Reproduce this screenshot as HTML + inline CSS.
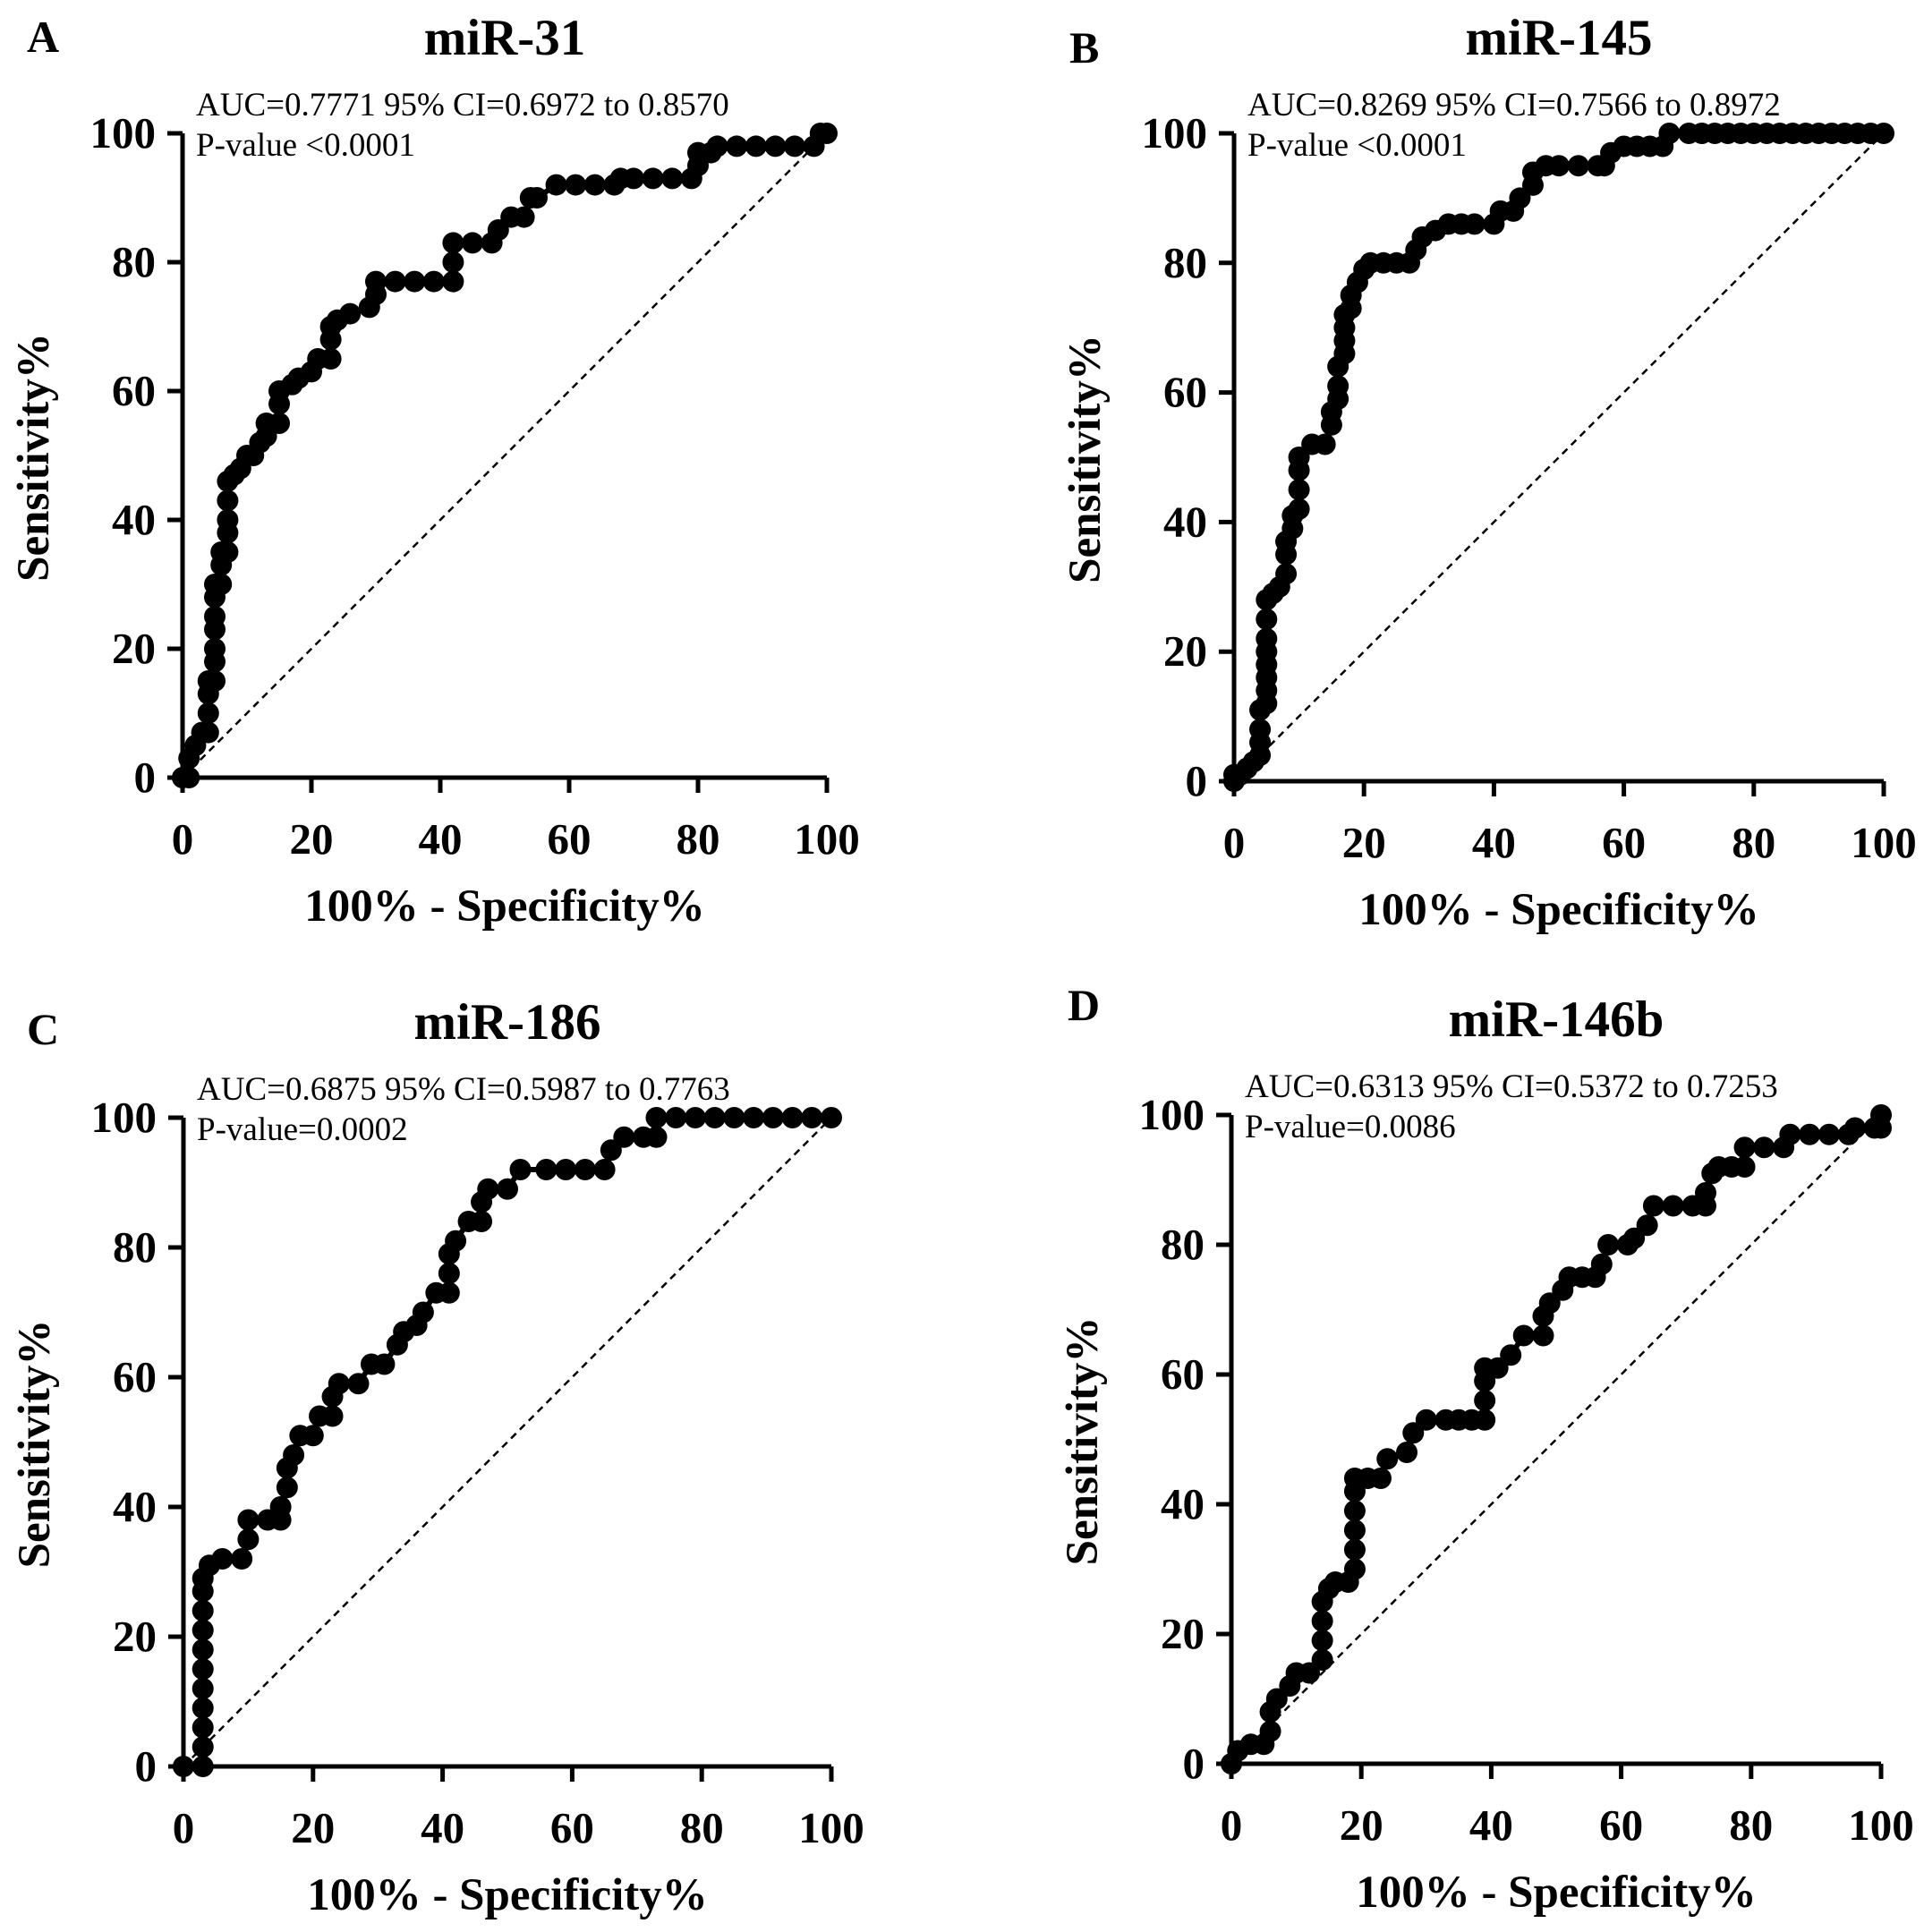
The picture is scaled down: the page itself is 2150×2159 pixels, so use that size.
<!DOCTYPE html>
<html><head><meta charset="utf-8"><style>
html,body{margin:0;padding:0;background:#fff;}
svg{display:block;font-family:"Liberation Serif",serif;}
</style></head><body>
<svg id="chart" width="2150" height="2159" viewBox="0 0 2150 2159" xmlns="http://www.w3.org/2000/svg"></svg>
<script>
const ticks = [0,20,40,60,80,100];
const titles = ["miR-31","miR-145","miR-186","miR-146b"];
const letters = ["A","B","C","D"];
const aucTexts = ["AUC=0.7771 95% CI=0.6972 to 0.8570","AUC=0.8269 95% CI=0.7566 to 0.8972","AUC=0.6875 95% CI=0.5987 to 0.7763","AUC=0.6313 95% CI=0.5372 to 0.7253"];
const pTexts = ["P-value <0.0001","P-value <0.0001","P-value=0.0002","P-value=0.0086"];
const rocAx = [0,1,1,2,3,4,4,4,4,5,5,5,5,5,5,5,6,6,6,7,7,7,7,7,8,9,10,11,12,13,13,15,15,15,17,18,20,21,23,23,23,24,26,29,30,30,33,36,39,42,42,42,45,48,49,51,53,54,55,58,61,64,67,68,70,73,76,79,80,80,82,83,86,89,92,95,98,99,100];
const rocAy = [0,0,3,5,7,7,10,13,15,15,18,20,23,25,28,30,30,33,35,35,38,40,43,46,47,48,50,50,52,53,55,55,58,60,61,62,63,65,65,68,70,71,72,73,75,77,77,77,77,77,80,83,83,83,85,87,87,90,90,92,92,92,92,93,93,93,93,93,95,97,97,98,98,98,98,98,98,100,100];
const rocBx = [0,0,1,2,3,4,4,4,4,5,5,5,5,5,5,5,5,6,7,8,8,8,9,9,10,10,10,10,12,14,15,15,16,16,16,17,17,17,17,18,18,19,20,21,23,25,27,28,29,31,33,35,37,40,41,43,44,46,46,48,50,53,56,57,58,60,62,64,66,67,70,72,74,76,78,80,82,84,86,88,90,92,94,96,98,100];
const rocBy = [0,1,1,2,3,4,6,8,11,12,14,16,18,20,22,25,28,29,30,32,35,37,39,41,42,45,48,50,52,52,55,57,59,61,64,66,68,70,72,73,75,77,79,80,80,80,80,82,84,85,86,86,86,86,88,88,90,92,94,95,95,95,95,95,97,98,98,98,98,100,100,100,100,100,100,100,100,100,100,100,100,100,100,100,100,100];
const rocCx = [0,3,3,3,3,3,3,3,3,3,3,3,4,6,9,10,10,13,15,15,16,16,17,18,20,21,23,23,24,27,29,31,33,34,36,37,39,41,41,41,42,44,46,46,47,50,52,56,59,62,65,66,68,71,73,73,76,79,82,85,88,91,94,97,100];
const rocCy = [0,0,3,6,9,12,15,18,21,24,27,29,31,32,32,35,38,38,38,40,43,46,48,51,51,54,54,57,59,59,62,62,65,67,68,70,73,73,76,79,81,84,84,87,89,89,92,92,92,92,92,95,97,97,97,100,100,100,100,100,100,100,100,100,100];
const rocDx = [0,1,3,5,6,6,7,9,10,12,14,14,14,14,15,16,18,19,19,19,19,19,19,21,23,24,27,28,30,33,35,37,39,39,39,39,41,43,45,48,48,49,51,52,54,56,57,58,61,62,64,65,68,71,73,73,74,75,77,79,79,82,85,86,89,92,95,96,99,100,100];
const rocDy = [0,2,3,3,5,8,10,12,14,14,16,19,22,25,27,28,28,30,33,36,39,42,44,44,44,47,48,51,53,53,53,53,53,56,59,61,61,63,66,66,69,71,73,75,75,75,77,80,80,81,83,86,86,86,86,88,91,92,92,92,95,95,95,97,97,97,97,98,98,100,98];
const series = [[rocAx,rocAy],[rocBx,rocBy],[rocCx,rocCy],[rocDx,rocDy]];
const panels = [
 {x0:204,x1:924,y0:869,y1:149,lx:30,ly:58},
 {x0:1379,x1:2105,y0:873,y1:149,lx:1195,ly:70},
 {x0:205,x1:929,y0:1974,y1:1249,lx:30,ly:1167},
 {x0:1376,x1:2102,y0:1971,y1:1246,lx:1193,ly:1140}
];
const svg = document.getElementById('chart');
const NS = 'http://www.w3.org/2000/svg';
function mk(tag, attrs, parent){const e=document.createElementNS(NS,tag);for(const k in attrs)e.setAttribute(k,attrs[k]);(parent||svg).appendChild(e);return e;}
const names=["mir-31","mir-145","mir-186","mir-146b"];
panels.forEach((p,i)=>{
  const g = mk('g',{});
  
  
  const sx = v => p.x0 + (p.x1-p.x0)*v/100;
  const sy = v => p.y0 + (p.y1-p.y0)*v/100;
  const cx = (p.x0+p.x1)/2;
  let t = mk('text',{x:p.lx,y:p.ly,'font-size':50,'font-weight':'bold'},g); t.textContent=letters[i];
  
  
  t = mk('text',{x:cx,y:p.y1-88,'font-size':57,'font-weight':'bold','text-anchor':'middle'},g); t.textContent=titles[i];
  
  
  t = mk('text',{x:p.x0+15,y:p.y1-20,'font-size':37},g); t.textContent=aucTexts[i];
  
  
  t = mk('text',{x:p.x0+15,y:p.y1+25,'font-size':37},g); t.textContent=pTexts[i];
  
  
  let d = mk('line',{x1:sx(0),y1:sy(0),x2:sx(100),y2:sy(100),stroke:'#000','stroke-width':2.5,'stroke-dasharray':'8 6'},g);
  
  
  let ax = mk('path',{d:`M${p.x0} ${sy(100)} V${p.y0} H${sx(100)}`,stroke:'#000','stroke-width':5,fill:'none'},g);
  
  
  ticks.forEach(v=>{
    mk('line',{x1:sx(v),y1:p.y0,x2:sx(v),y2:p.y0+17,stroke:'#000','stroke-width':5},g);
    mk('line',{x1:p.x0-17,y1:sy(v),x2:p.x0,y2:sy(v),stroke:'#000','stroke-width':5},g);
    let a = mk('text',{x:sx(v),y:p.y0+85,'font-size':49,'font-weight':'bold','text-anchor':'middle'},g); a.textContent=v;
    
    
    let b = mk('text',{x:p.x0-30,y:sy(v)+16,'font-size':49,'font-weight':'bold','text-anchor':'end'},g); b.textContent=v;
    
    
  });
  t = mk('text',{x:cx,y:p.y0+160,'font-size':51,'font-weight':'bold','text-anchor':'middle'},g); t.textContent='100% - Specificity%';
  
  
  const my=(p.y0+p.y1)/2+2, lxp=p.x0-150;
  t = mk('text',{x:lxp,y:my,'font-size':51,'font-weight':'bold','text-anchor':'middle',transform:`rotate(-90 ${lxp} ${my})`},g); t.textContent='Sensitivity%';
  
  
  const xs=series[i][0], ys=series[i][1];
  let dd='';
  xs.forEach((x,k)=>{dd += (k?'L':'M')+sx(x)+' '+sy(ys[k]);});
  let ln = mk('path',{d:dd,stroke:'#000','stroke-width':6,fill:'none'},g);
  
  
  xs.forEach((x,k)=>{
    const c = mk('circle',{cx:sx(x),cy:sy(ys[k]),r:12,fill:'#000'},g);
    
    
  });
});
</script>
</body></html>
